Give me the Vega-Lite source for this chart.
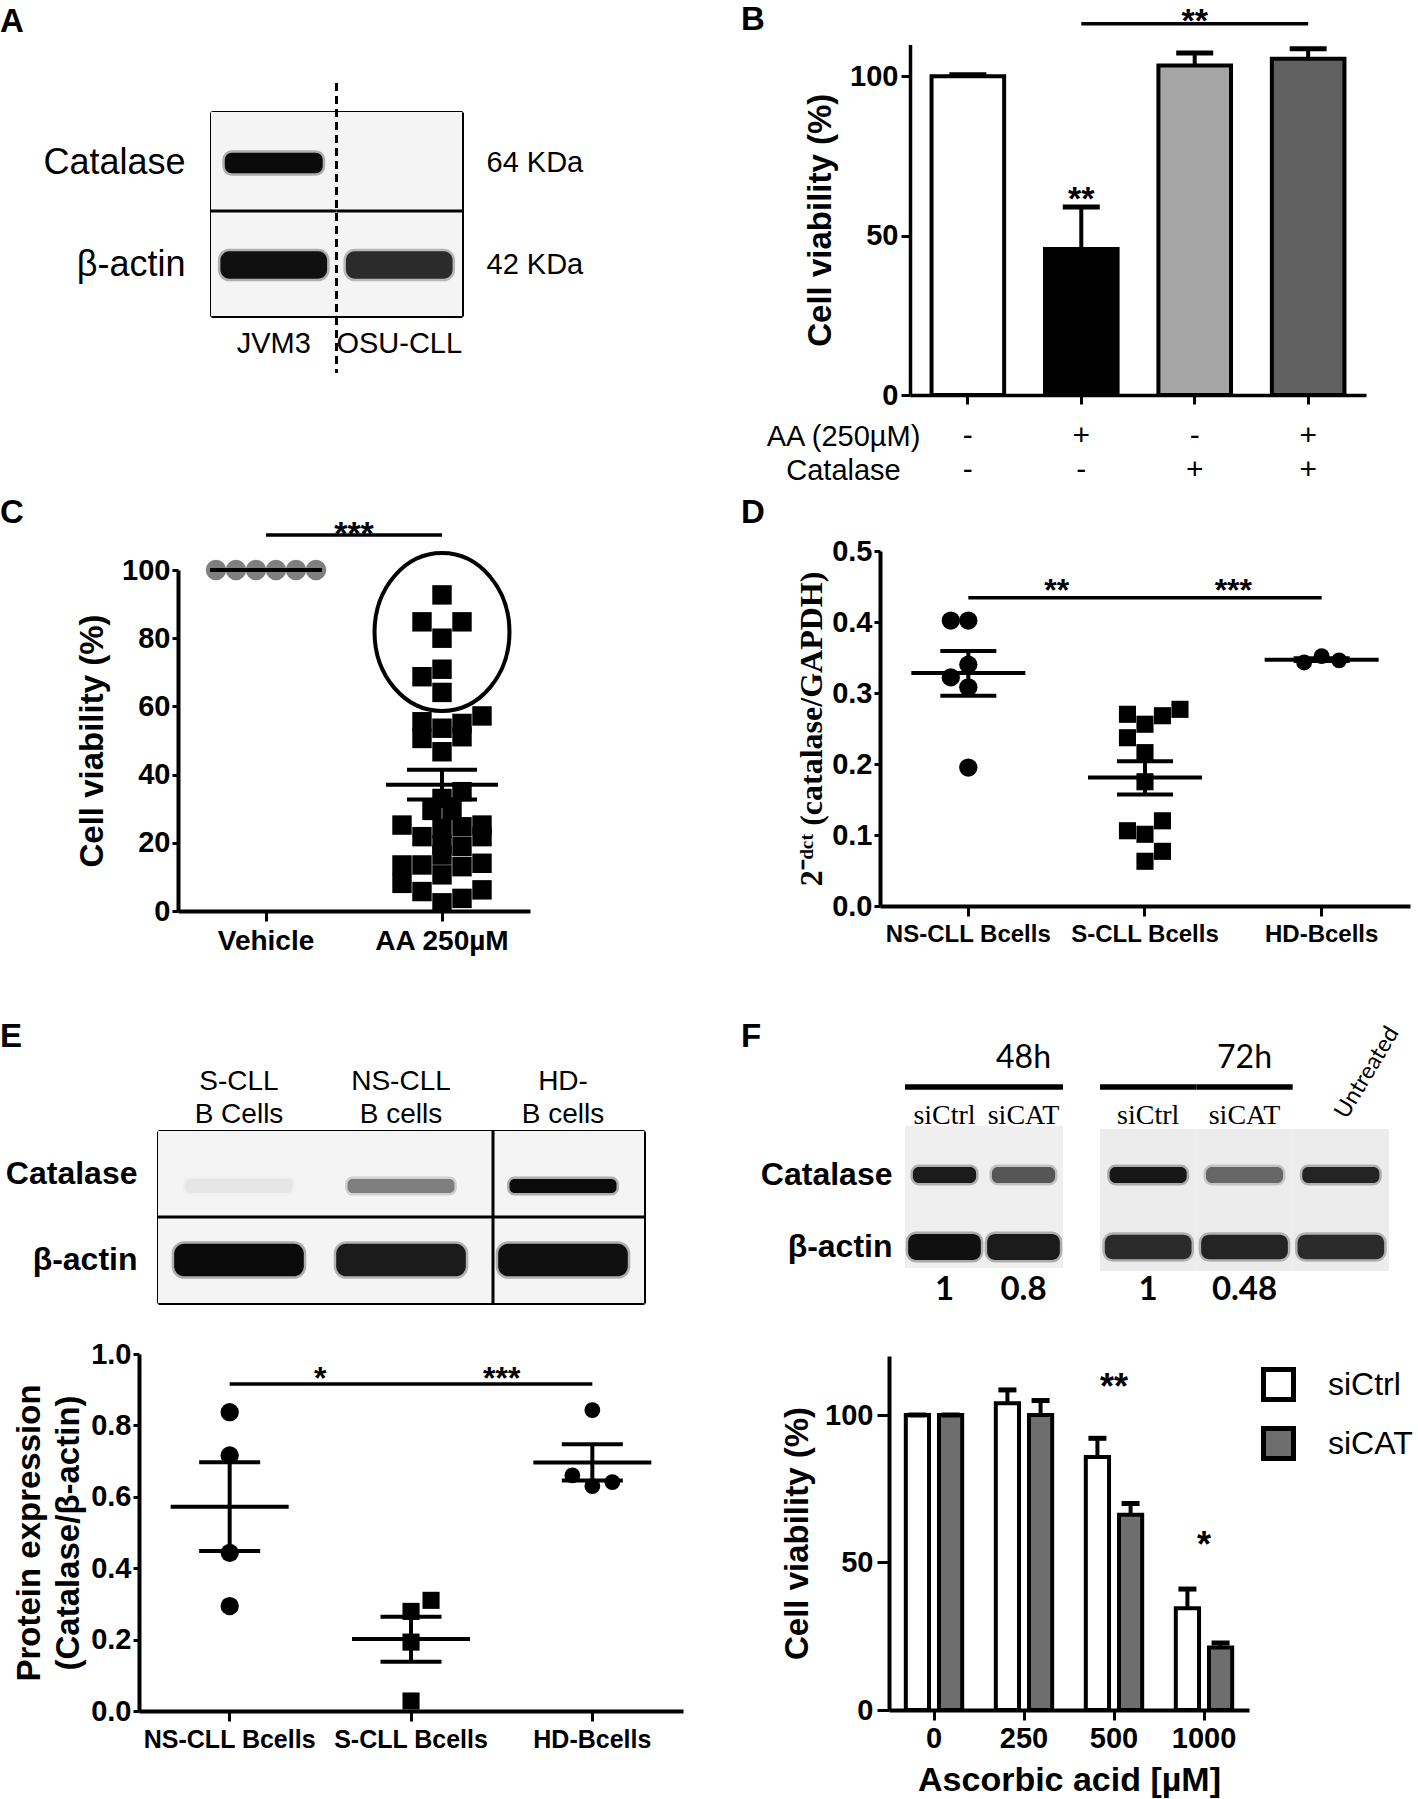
{
"$schema": "https://vega.github.io/schema/vega-lite/v6.json",
"background": "white",
"padding": {"top": 3, "left": 0, "right": 0, "bottom": 0},
"autosize": {"type": "pad"},
"columns": 2,
"spacing": 0,
"bounds": "flush",
"align": "each",
"config": {
 "view": {"stroke": null},
 "font": "Liberation Sans",
 "title": {"font": "Liberation Sans", "fontSize": 33, "fontWeight": "bold", "anchor": "start", "frame": "group", "color": "black", "baseline": "alphabetic"},
 "axis": {"domainColor": "black", "tickColor": "black", "labelColor": "black", "titleColor": "black", "labelFont": "Liberation Sans", "titleFont": "Liberation Sans", "labelFontWeight": "bold", "titleFontWeight": "bold", "labelFontSize": 29, "titleFontSize": 33, "domainWidth": 3.5, "tickWidth": 3, "grid": false, "labelFlush": false, "labelOverlap": false, "labelLimit": 600, "labelAngle": 0, "zindex": 1},
 "text": {"font": "Liberation Sans", "color": "black"}
},
"datasets": {
 "blotA": [
  {"lane": "JVM3", "row": "Catalase", "v": 0.97},
  {"lane": "OSU-CLL", "row": "Catalase", "v": 0},
  {"lane": "JVM3", "row": "β-actin", "v": 0.95},
  {"lane": "OSU-CLL", "row": "β-actin", "v": 0.82}
 ],
 "blotE": [
  {"lane": "S-CLL", "row": "Catalase", "v": 0.05},
  {"lane": "NS-CLL", "row": "Catalase", "v": 0.45},
  {"lane": "HD", "row": "Catalase", "v": 0.97},
  {"lane": "S-CLL", "row": "β-actin", "v": 0.97},
  {"lane": "NS-CLL", "row": "β-actin", "v": 0.9},
  {"lane": "HD", "row": "β-actin", "v": 0.95}
 ],
 "F_bands": [
  {"blot": "48h", "lane": "48h siCtrl", "row": "Catalase", "v": 0.9},
  {"blot": "48h", "lane": "48h siCAT", "row": "Catalase", "v": 0.62},
  {"blot": "72h", "lane": "72h siCtrl", "row": "Catalase", "v": 0.92},
  {"blot": "72h", "lane": "72h siCAT", "row": "Catalase", "v": 0.55},
  {"blot": "72h", "lane": "Untreated", "row": "Catalase", "v": 0.85},
  {"blot": "48h", "lane": "48h siCtrl", "row": "β-actin", "v": 0.95},
  {"blot": "48h", "lane": "48h siCAT", "row": "β-actin", "v": 0.9},
  {"blot": "72h", "lane": "72h siCtrl", "row": "β-actin", "v": 0.82},
  {"blot": "72h", "lane": "72h siCAT", "row": "β-actin", "v": 0.85},
  {"blot": "72h", "lane": "Untreated", "row": "β-actin", "v": 0.82}
 ],
 "F_lanes": [
  {"blot": "48h", "lane": "48h siCtrl", "label": "siCtrl", "ratio": "1"},
  {"blot": "48h", "lane": "48h siCAT", "label": "siCAT", "ratio": "0.8"},
  {"blot": "72h", "lane": "72h siCtrl", "label": "siCtrl", "ratio": "1"},
  {"blot": "72h", "lane": "72h siCAT", "label": "siCAT", "ratio": "0.48"},
  {"blot": "72h", "lane": "Untreated", "label": "Untreated", "ratio": ""}
 ],
 "B_bars": [
  {"cond": "Control", "mean": 100, "upper": 100.5},
  {"cond": "AA", "mean": 45.8, "upper": 59},
  {"cond": "Catalase", "mean": 103.4, "upper": 107.3},
  {"cond": "AA + Catalase", "mean": 105.5, "upper": 108.6}
 ],
 "B_sig": [
  {"at": "AA", "y": 57.9, "label": "**"},
  {"at": "Catalase", "y": 113.9, "label": "**"}
 ],
 "B_lines": [{"from": "AA", "to": "AA + Catalase", "y": 116.5}],
 "B_table": [
  {"cond": "Control", "factor": "AA (250µM)", "sign": "-"},
  {"cond": "AA", "factor": "AA (250µM)", "sign": "+"},
  {"cond": "Catalase", "factor": "AA (250µM)", "sign": "-"},
  {"cond": "AA + Catalase", "factor": "AA (250µM)", "sign": "+"},
  {"cond": "Control", "factor": "Catalase", "sign": "-"},
  {"cond": "AA", "factor": "Catalase", "sign": "-"},
  {"cond": "Catalase", "factor": "Catalase", "sign": "+"},
  {"cond": "AA + Catalase", "factor": "Catalase", "sign": "+"}
 ],
 "C_pts": [
  {"grp": "Vehicle", "v": 100, "slot": -2.5},
  {"grp": "Vehicle", "v": 100, "slot": -1.5},
  {"grp": "Vehicle", "v": 100, "slot": -0.5},
  {"grp": "Vehicle", "v": 100, "slot": 0.5},
  {"grp": "Vehicle", "v": 100, "slot": 1.5},
  {"grp": "Vehicle", "v": 100, "slot": 2.5},
  {"grp": "AA 250µM", "v": 92.7, "slot": 0},
  {"grp": "AA 250µM", "v": 84.8, "slot": -1},
  {"grp": "AA 250µM", "v": 84.8, "slot": 1},
  {"grp": "AA 250µM", "v": 80.0, "slot": 0},
  {"grp": "AA 250µM", "v": 70.9, "slot": 0},
  {"grp": "AA 250µM", "v": 68.7, "slot": -1},
  {"grp": "AA 250µM", "v": 64.1, "slot": 0},
  {"grp": "AA 250µM", "v": 57.2, "slot": 2},
  {"grp": "AA 250µM", "v": 55.5, "slot": -1},
  {"grp": "AA 250µM", "v": 55.0, "slot": 1},
  {"grp": "AA 250µM", "v": 53.6, "slot": 0},
  {"grp": "AA 250µM", "v": 50.6, "slot": -1},
  {"grp": "AA 250µM", "v": 51.1, "slot": 1},
  {"grp": "AA 250µM", "v": 46.7, "slot": 0},
  {"grp": "AA 250µM", "v": 35.0, "slot": 1},
  {"grp": "AA 250µM", "v": 33.0, "slot": 0},
  {"grp": "AA 250µM", "v": 29.5, "slot": -0.5},
  {"grp": "AA 250µM", "v": 29.5, "slot": 0.5},
  {"grp": "AA 250µM", "v": 25.2, "slot": -2},
  {"grp": "AA 250µM", "v": 25.2, "slot": 2},
  {"grp": "AA 250µM", "v": 24.2, "slot": 0},
  {"grp": "AA 250µM", "v": 24.7, "slot": 1},
  {"grp": "AA 250µM", "v": 21.8, "slot": -1},
  {"grp": "AA 250µM", "v": 21.8, "slot": 2},
  {"grp": "AA 250µM", "v": 19.4, "slot": 0},
  {"grp": "AA 250µM", "v": 18.9, "slot": 1},
  {"grp": "AA 250µM", "v": 16.4, "slot": 0},
  {"grp": "AA 250µM", "v": 13.5, "slot": -2},
  {"grp": "AA 250µM", "v": 13.5, "slot": -1},
  {"grp": "AA 250µM", "v": 13.0, "slot": 1},
  {"grp": "AA 250µM", "v": 14.0, "slot": 2},
  {"grp": "AA 250µM", "v": 10.6, "slot": 0},
  {"grp": "AA 250µM", "v": 8.1, "slot": -2},
  {"grp": "AA 250µM", "v": 6.2, "slot": 2},
  {"grp": "AA 250µM", "v": 5.7, "slot": -1},
  {"grp": "AA 250µM", "v": 3.7, "slot": 1},
  {"grp": "AA 250µM", "v": 2.4, "slot": 0}
 ],
 "C_stats": [
  {"grp": "Vehicle", "mean": 100, "lo": 100, "hi": 100},
  {"grp": "AA 250µM", "mean": 37.0, "lo": 32.7, "hi": 41.4}
 ],
 "C_ring": [{"grp": "AA 250µM", "v": 81.8}],
 "C_sig": [{"at": "AA 250µM", "y": 107.3, "label": "***"}],
 "C_lines": [{"from": "Vehicle", "to": "AA 250µM", "y": 110.3}],
 "D_pts": [
  {"grp": "NS-CLL Bcells", "v": 0.402, "slot": -1},
  {"grp": "NS-CLL Bcells", "v": 0.402, "slot": 0},
  {"grp": "NS-CLL Bcells", "v": 0.340, "slot": 0},
  {"grp": "NS-CLL Bcells", "v": 0.322, "slot": -1},
  {"grp": "NS-CLL Bcells", "v": 0.308, "slot": 0},
  {"grp": "NS-CLL Bcells", "v": 0.195, "slot": 0},
  {"grp": "S-CLL Bcells", "v": 0.270, "slot": -1},
  {"grp": "S-CLL Bcells", "v": 0.277, "slot": 2},
  {"grp": "S-CLL Bcells", "v": 0.268, "slot": 1},
  {"grp": "S-CLL Bcells", "v": 0.256, "slot": 0},
  {"grp": "S-CLL Bcells", "v": 0.237, "slot": -1},
  {"grp": "S-CLL Bcells", "v": 0.216, "slot": 0},
  {"grp": "S-CLL Bcells", "v": 0.175, "slot": 0},
  {"grp": "S-CLL Bcells", "v": 0.120, "slot": 1},
  {"grp": "S-CLL Bcells", "v": 0.106, "slot": -1},
  {"grp": "S-CLL Bcells", "v": 0.101, "slot": 0},
  {"grp": "S-CLL Bcells", "v": 0.077, "slot": 1},
  {"grp": "S-CLL Bcells", "v": 0.063, "slot": 0},
  {"grp": "HD-Bcells", "v": 0.343, "slot": -1},
  {"grp": "HD-Bcells", "v": 0.352, "slot": 0},
  {"grp": "HD-Bcells", "v": 0.346, "slot": 1}
 ],
 "D_stats": [
  {"grp": "NS-CLL Bcells", "mean": 0.328, "lo": 0.296, "hi": 0.359},
  {"grp": "S-CLL Bcells", "mean": 0.181, "lo": 0.157, "hi": 0.204},
  {"grp": "HD-Bcells", "mean": 0.347, "lo": 0.345, "hi": 0.349}
 ],
 "D_sig": [
  {"at": "S-CLL Bcells", "y": 0.4296, "label": "**"},
  {"at": "HD-Bcells", "y": 0.4296, "label": "***"}
 ],
 "D_lines": [
  {"from": "NS-CLL Bcells", "to": "S-CLL Bcells", "y": 0.434},
  {"from": "S-CLL Bcells", "to": "HD-Bcells", "y": 0.434}
 ],
 "E_pts": [
  {"grp": "NS-CLL Bcells", "v": 0.837, "slot": 0},
  {"grp": "NS-CLL Bcells", "v": 0.716, "slot": 0},
  {"grp": "NS-CLL Bcells", "v": 0.443, "slot": 0},
  {"grp": "NS-CLL Bcells", "v": 0.294, "slot": 0},
  {"grp": "S-CLL Bcells", "v": 0.310, "slot": 1},
  {"grp": "S-CLL Bcells", "v": 0.279, "slot": 0},
  {"grp": "S-CLL Bcells", "v": 0.193, "slot": 0},
  {"grp": "S-CLL Bcells", "v": 0.028, "slot": 0},
  {"grp": "HD-Bcells", "v": 0.843, "slot": 0},
  {"grp": "HD-Bcells", "v": 0.660, "slot": -1},
  {"grp": "HD-Bcells", "v": 0.630, "slot": 0},
  {"grp": "HD-Bcells", "v": 0.641, "slot": 1}
 ],
 "E_stats": [
  {"grp": "NS-CLL Bcells", "mean": 0.572, "lo": 0.448, "hi": 0.697},
  {"grp": "S-CLL Bcells", "mean": 0.202, "lo": 0.138, "hi": 0.264},
  {"grp": "HD-Bcells", "mean": 0.696, "lo": 0.646, "hi": 0.747}
 ],
 "E_sig": [
  {"at": "S-CLL Bcells", "y": 0.902, "label": "*"},
  {"at": "HD-Bcells", "y": 0.902, "label": "***"}
 ],
 "E_lines": [
  {"from": "NS-CLL Bcells", "to": "S-CLL Bcells", "y": 0.916},
  {"from": "S-CLL Bcells", "to": "HD-Bcells", "y": 0.916}
 ],
 "F_bars": [
  {"aa": "0", "si": "siCtrl", "mean": 100, "upper": 100},
  {"aa": "0", "si": "siCAT", "mean": 100, "upper": 100},
  {"aa": "250", "si": "siCtrl", "mean": 104.0, "upper": 108.5},
  {"aa": "250", "si": "siCAT", "mean": 100.0, "upper": 104.9},
  {"aa": "500", "si": "siCtrl", "mean": 85.8, "upper": 92.1},
  {"aa": "500", "si": "siCAT", "mean": 66.2, "upper": 70.0},
  {"aa": "1000", "si": "siCtrl", "mean": 34.5, "upper": 41.0},
  {"aa": "1000", "si": "siCAT", "mean": 21.2, "upper": 22.7}
 ],
 "F_sig": [
  {"aa": "500", "y": 105.4, "label": "**"},
  {"aa": "1000", "y": 51.9, "label": "*"}
 ]
},
"concat": [
 {
  "width": 709, "height": 495,
  "title": {"text": "A", "offset": -36},
  "resolve": {"scale": {"x": "independent", "y": "independent"}},
  "layer": [
   {
    "data": {"name": "blotA"},
    "mark": {"type": "rect", "color": "#f4f4f4"},
    "encoding": {
     "x": {"field": "lane", "type": "nominal", "scale": {"domain": ["JVM3", "OSU-CLL"], "range": [211, 462], "paddingInner": 0, "paddingOuter": 0},
       "axis": {"orient": "bottom", "offset": -182, "domainWidth": 3, "ticks": false, "labelFontWeight": "normal", "labelFontSize": 29, "labelPadding": 13, "title": null}},
     "y": {"field": "row", "type": "nominal", "scale": {"domain": ["Catalase", "β-actin"], "range": [109, 313], "paddingInner": 0, "paddingOuter": 0},
       "axis": {"orient": "left", "offset": -211, "domainWidth": 3, "ticks": false, "labelFontWeight": "normal", "labelFontSize": 36, "labelPadding": 26, "title": null}}
    }
   },
   {
    "data": {"name": "blotA"},
    "transform": [{"filter": "datum.row === 'Catalase' && datum.v > 0"}],
    "mark": {"type": "rect", "width": {"band": 0.78}, "height": {"band": 0.2}, "cornerRadius": 7, "strokeWidth": 5, "strokeOpacity": 0.3},
    "encoding": {
     "x": {"field": "lane", "type": "nominal", "scale": {"domain": ["JVM3", "OSU-CLL"], "range": [211, 462], "paddingInner": 0, "paddingOuter": 0},
       "axis": {"orient": "top", "offset": -109, "domainWidth": 3, "ticks": false, "labels": false, "title": null}},
     "y": {"field": "row", "type": "nominal", "scale": {"domain": ["Catalase", "β-actin"], "range": [109, 313], "paddingInner": 0, "paddingOuter": 0},
       "axis": {"orient": "right", "offset": -247, "domainWidth": 3, "ticks": false, "labelFontWeight": "normal", "labelFontSize": 29, "labelPadding": 24, "labelExpr": "datum.value === 'Catalase' ? '64 KDa' : '42 KDa'", "title": null}},
     "fill": {"field": "v", "type": "quantitative", "scale": {"domain": [0, 1], "range": ["#f4f4f4", "#000000"]}, "legend": null},
     "stroke": {"field": "v", "type": "quantitative", "scale": {"domain": [0, 1], "range": ["#f4f4f4", "#000000"]}, "legend": null}
    }
   },
   {
    "data": {"name": "blotA"},
    "transform": [{"filter": "datum.row === 'β-actin'"}],
    "mark": {"type": "rect", "width": {"band": 0.85}, "height": {"band": 0.27}, "cornerRadius": 9, "strokeWidth": 5, "strokeOpacity": 0.3},
    "encoding": {
     "x": {"field": "lane", "type": "nominal", "scale": {"domain": ["JVM3", "OSU-CLL"], "range": [211, 462], "paddingInner": 0, "paddingOuter": 0}, "axis": null},
     "y": {"field": "row", "type": "nominal", "scale": {"domain": ["Catalase", "β-actin"], "range": [109, 313], "paddingInner": 0, "paddingOuter": 0}, "axis": null},
     "fill": {"field": "v", "type": "quantitative", "scale": {"domain": [0, 1], "range": ["#f4f4f4", "#000000"]}, "legend": null},
     "stroke": {"field": "v", "type": "quantitative", "scale": {"domain": [0, 1], "range": ["#f4f4f4", "#000000"]}, "legend": null}
    }
   },
   {
    "data": {"name": "blotA"},
    "transform": [{"filter": "datum.row === 'Catalase'"}],
    "mark": {"type": "rect", "color": "black"},
    "encoding": {
     "x": {"field": "lane", "type": "nominal", "scale": {"domain": ["JVM3", "OSU-CLL"], "range": [211, 462], "paddingInner": 0, "paddingOuter": 0}, "axis": null},
     "y": {"datum": "separator", "type": "nominal", "scale": {"domain": ["separator"], "range": [206.5, 209.5], "paddingInner": 0, "paddingOuter": 0}, "axis": null}
    }
   },
   {
    "data": {"name": "blotA"},
    "transform": [{"filter": "datum.lane === 'OSU-CLL' && datum.row === 'Catalase'"}],
    "mark": {"type": "rule", "color": "black", "strokeWidth": 3, "strokeDash": [8, 5]},
    "encoding": {
     "x": {"field": "lane", "type": "nominal", "bandPosition": 0, "scale": {"domain": ["JVM3", "OSU-CLL"], "range": [211, 462], "paddingInner": 0, "paddingOuter": 0}, "axis": null},
     "y": {"datum": "top", "type": "nominal", "scale": {"type": "point", "domain": ["top", "bottom"], "range": [80, 370], "padding": 0}, "axis": null},
     "y2": {"datum": "bottom"}
    }
   }
  ]
 },
 {
  "width": 709, "height": 495,
  "title": {"text": "B", "offset": -34, "dx": 32},
  "resolve": {"scale": {"y": "independent"}},
  "layer": [
   {
    "data": {"name": "B_bars"},
    "mark": {"type": "bar", "stroke": "black", "strokeWidth": 4},
    "encoding": {
     "x": {"field": "cond", "type": "nominal", "scale": {"domain": ["Control", "AA", "Catalase", "AA + Catalase"], "range": [201, 657], "paddingInner": 0.36, "paddingOuter": 0.19},
       "axis": {"orient": "bottom", "offset": -103, "labels": false, "tickSize": 9, "title": null}},
     "y": {"field": "mean", "type": "quantitative", "scale": {"domain": [0, 110], "range": [392, 41.4], "nice": false, "zero": false},
       "axis": {"orient": "left", "offset": -201, "values": [0, 50, 100], "tickSize": 9, "labelPadding": 3, "title": "Cell viability (%)", "titlePadding": 12}},
     "fill": {"field": "cond", "type": "nominal", "scale": {"domain": ["Control", "AA", "Catalase", "AA + Catalase"], "range": ["#ffffff", "#000000", "#a6a6a6", "#606060"]}, "legend": null}
    }
   },
   {
    "data": {"name": "B_bars"},
    "mark": {"type": "rule", "strokeWidth": 4, "color": "black"},
    "encoding": {
     "x": {"field": "cond", "type": "nominal"},
     "y": {"field": "mean", "type": "quantitative", "scale": {"domain": [0, 110], "range": [392, 41.4], "nice": false, "zero": false}, "axis": null},
     "y2": {"field": "upper"}
    }
   },
   {
    "data": {"name": "B_bars"},
    "mark": {"type": "tick", "size": 37, "thickness": 5, "color": "black", "opacity": 1},
    "encoding": {
     "x": {"field": "cond", "type": "nominal"},
     "y": {"field": "upper", "type": "quantitative", "scale": {"domain": [0, 110], "range": [392, 41.4], "nice": false, "zero": false}, "axis": null}
    }
   },
   {
    "data": {"name": "B_sig"},
    "mark": {"type": "text", "fontSize": 34, "fontWeight": "bold", "baseline": "alphabetic", "align": "center"},
    "encoding": {
     "x": {"field": "at", "type": "nominal"},
     "y": {"field": "y", "type": "quantitative", "scale": {"domain": [0, 110], "range": [392, 41.4], "nice": false, "zero": false}, "axis": null},
     "text": {"field": "label"}
    }
   },
   {
    "data": {"name": "B_lines"},
    "mark": {"type": "rule", "strokeWidth": 3.5, "color": "black"},
    "encoding": {
     "x": {"field": "from", "type": "nominal"},
     "x2": {"field": "to"},
     "y": {"field": "y", "type": "quantitative", "scale": {"domain": [0, 110], "range": [392, 41.4], "nice": false, "zero": false}, "axis": null}
    }
   },
   {
    "data": {"name": "B_table"},
    "mark": {"type": "text", "fontSize": 30, "baseline": "middle", "align": "center"},
    "encoding": {
     "x": {"field": "cond", "type": "nominal"},
     "y": {"field": "factor", "type": "nominal", "scale": {"domain": ["AA (250µM)", "Catalase"], "range": [416, 484], "paddingInner": 0, "paddingOuter": 0},
       "axis": {"orient": "left", "offset": -134, "domain": false, "ticks": false, "labelAlign": "center", "labelPadding": 0, "labelFontWeight": "normal", "labelFontSize": 29, "title": null}},
     "text": {"field": "sign"}
    }
   }
  ]
 },
 {
  "width": 709, "height": 515,
  "title": {"text": "C", "offset": -32},
  "layer": [
   {
    "data": {"name": "C_pts"},
    "mark": {"type": "point", "filled": true, "opacity": 1, "strokeWidth": 0},
    "encoding": {
     "x": {"field": "grp", "type": "nominal", "scale": {"domain": ["Vehicle", "AA 250µM"], "range": [178, 530], "paddingInner": 0, "paddingOuter": 0},
       "axis": {"orient": "bottom", "offset": -102, "domainWidth": 4, "tickSize": 10, "labelFontSize": 28, "labelPadding": 6, "title": null}},
     "xOffset": {"field": "slot", "type": "quantitative", "scale": {"domain": [-2, 2], "range": [48, 128]}},
     "y": {"field": "v", "type": "quantitative", "scale": {"domain": [0, 100], "range": [413, 72], "nice": false, "zero": false},
       "axis": {"orient": "left", "offset": -178, "values": [0, 20, 40, 60, 80, 100], "tickSize": 6, "labelPadding": 2, "domainWidth": 4, "title": "Cell viability (%)", "titlePadding": 12}},
     "shape": {"field": "grp", "type": "nominal", "scale": {"domain": ["Vehicle", "AA 250µM"], "range": ["circle", "square"]}, "legend": null},
     "color": {"field": "grp", "type": "nominal", "scale": {"domain": ["Vehicle", "AA 250µM"], "range": ["#7f7f7f", "#000000"]}, "legend": null},
     "size": {"field": "grp", "type": "ordinal", "scale": {"domain": ["Vehicle", "AA 250µM"], "range": [420, 250]}, "legend": null}
    }
   },
   {
    "data": {"name": "C_stats"},
    "mark": {"type": "tick", "size": 112, "thickness": 4, "color": "black", "opacity": 1},
    "encoding": {"x": {"field": "grp", "type": "nominal"}, "y": {"field": "mean", "type": "quantitative"}}
   },
   {
    "data": {"name": "C_stats"},
    "mark": {"type": "rule", "strokeWidth": 4, "color": "black"},
    "encoding": {"x": {"field": "grp", "type": "nominal"}, "y": {"field": "lo", "type": "quantitative"}, "y2": {"field": "hi"}}
   },
   {
    "data": {"name": "C_stats"},
    "mark": {"type": "tick", "size": 70, "thickness": 4, "color": "black", "opacity": 1},
    "encoding": {"x": {"field": "grp", "type": "nominal"}, "y": {"field": "lo", "type": "quantitative"}}
   },
   {
    "data": {"name": "C_stats"},
    "mark": {"type": "tick", "size": 70, "thickness": 4, "color": "black", "opacity": 1},
    "encoding": {"x": {"field": "grp", "type": "nominal"}, "y": {"field": "hi", "type": "quantitative"}}
   },
   {
    "data": {"name": "C_ring"},
    "mark": {"type": "point", "shape": "M -0.854 0 A 0.854 1 0 1 0 0.854 0 A 0.854 1 0 1 0 -0.854 0 Z", "size": 24964, "filled": false, "stroke": "black", "strokeWidth": 4, "opacity": 1},
    "encoding": {"x": {"field": "grp", "type": "nominal"}, "y": {"field": "v", "type": "quantitative"}}
   },
   {
    "data": {"name": "C_sig"},
    "mark": {"type": "text", "fontSize": 34, "fontWeight": "bold", "baseline": "alphabetic", "align": "center"},
    "encoding": {"x": {"field": "at", "type": "nominal", "bandPosition": 0}, "y": {"field": "y", "type": "quantitative"}, "text": {"field": "label"}}
   },
   {
    "data": {"name": "C_lines"},
    "mark": {"type": "rule", "strokeWidth": 3.5, "color": "black"},
    "encoding": {"x": {"field": "from", "type": "nominal"}, "x2": {"field": "to"}, "y": {"field": "y", "type": "quantitative"}}
   }
  ]
 },
 {
  "width": 709, "height": 515,
  "title": {"text": "D", "offset": -32, "dx": 32},
  "layer": [
   {
    "data": {"name": "D_pts"},
    "mark": {"type": "point", "filled": true, "opacity": 1, "strokeWidth": 0, "color": "black"},
    "encoding": {
     "x": {"field": "grp", "type": "nominal", "scale": {"domain": ["NS-CLL Bcells", "S-CLL Bcells", "HD-Bcells"], "range": [171, 701], "paddingInner": 0, "paddingOuter": 0},
       "axis": {"orient": "bottom", "offset": -107, "domainWidth": 4, "tickSize": 10, "labelFontSize": 24, "labelPadding": 6, "title": null}},
     "xOffset": {"field": "slot", "type": "quantitative", "scale": {"domain": [-2, 2], "range": [53.3, 123.3]}},
     "y": {"field": "v", "type": "quantitative", "scale": {"domain": [0, 0.5], "range": [408, 53], "nice": false, "zero": false},
       "axis": {"orient": "left", "offset": -171, "values": [0, 0.1, 0.2, 0.3, 0.4, 0.5], "format": ".1f", "tickSize": 6, "labelPadding": 2, "domainWidth": 4, "title": "2⁻ᵈᶜᵗ (catalase/GAPDH)", "titleFont": "Liberation Serif", "titleFontSize": 32, "titlePadding": 3}},
     "shape": {"field": "grp", "type": "nominal", "scale": {"domain": ["NS-CLL Bcells", "S-CLL Bcells", "HD-Bcells"], "range": ["circle", "square", "triangle-up"]}, "legend": null},
     "size": {"field": "grp", "type": "ordinal", "scale": {"domain": ["NS-CLL Bcells", "S-CLL Bcells", "HD-Bcells"], "range": [270, 256, 200]}, "legend": null}
    }
   },
   {
    "data": {"name": "D_stats"},
    "mark": {"type": "tick", "size": 114, "thickness": 4, "color": "black", "opacity": 1},
    "encoding": {"x": {"field": "grp", "type": "nominal"}, "y": {"field": "mean", "type": "quantitative"}}
   },
   {
    "data": {"name": "D_stats"},
    "mark": {"type": "rule", "strokeWidth": 4, "color": "black"},
    "encoding": {"x": {"field": "grp", "type": "nominal"}, "y": {"field": "lo", "type": "quantitative"}, "y2": {"field": "hi"}}
   },
   {
    "data": {"name": "D_stats"},
    "mark": {"type": "tick", "size": 56, "thickness": 4, "color": "black", "opacity": 1},
    "encoding": {"x": {"field": "grp", "type": "nominal"}, "y": {"field": "lo", "type": "quantitative"}}
   },
   {
    "data": {"name": "D_stats"},
    "mark": {"type": "tick", "size": 56, "thickness": 4, "color": "black", "opacity": 1},
    "encoding": {"x": {"field": "grp", "type": "nominal"}, "y": {"field": "hi", "type": "quantitative"}}
   },
   {
    "data": {"name": "D_sig"},
    "mark": {"type": "text", "fontSize": 32, "fontWeight": "bold", "baseline": "alphabetic", "align": "center"},
    "encoding": {"x": {"field": "at", "type": "nominal", "bandPosition": 0}, "y": {"field": "y", "type": "quantitative"}, "text": {"field": "label"}}
   },
   {
    "data": {"name": "D_lines"},
    "mark": {"type": "rule", "strokeWidth": 3.5, "color": "black"},
    "encoding": {"x": {"field": "from", "type": "nominal"}, "x2": {"field": "to"}, "y": {"field": "y", "type": "quantitative"}}
   }
  ]
 },
 {
  "width": 709, "height": 310,
  "title": {"text": "E", "offset": -41},
  "resolve": {"scale": {"x": "independent", "y": "independent"}},
  "layer": [
   {
    "data": {"name": "blotE"},
    "mark": {"type": "rect", "color": "#f4f4f4"},
    "encoding": {
     "x": {"field": "lane", "type": "nominal", "scale": {"domain": ["S-CLL", "NS-CLL", "HD"], "range": [158, 644], "paddingInner": 0, "paddingOuter": 0},
       "axis": {"orient": "top", "offset": -118, "domainWidth": 3, "ticks": false, "labelFontWeight": "normal", "labelFontSize": 28, "labelPadding": 3, "labelExpr": "datum.value === 'S-CLL' ? 'B Cells' : 'B cells'", "title": null}},
     "y": {"field": "row", "type": "nominal", "scale": {"domain": ["Catalase", "β-actin"], "range": [118, 290], "paddingInner": 0, "paddingOuter": 0},
       "axis": {"orient": "left", "offset": -158, "domainWidth": 3, "ticks": false, "labelFontSize": 32, "labelPadding": 21, "title": null}}
    }
   },
   {
    "data": {"name": "blotE"},
    "transform": [{"filter": "datum.row === 'Catalase'"}],
    "mark": {"type": "rect", "width": {"band": 0.66}, "height": {"band": 0.16}, "cornerRadius": 5, "strokeWidth": 5, "strokeOpacity": 0.3},
    "encoding": {
     "x": {"field": "lane", "type": "nominal", "scale": {"domain": ["S-CLL", "NS-CLL", "HD"], "range": [158, 644], "paddingInner": 0, "paddingOuter": 0},
       "axis": {"orient": "top", "offset": -118, "domain": false, "ticks": false, "labelFontWeight": "normal", "labelFontSize": 28, "labelPadding": 36, "labelExpr": "datum.value === 'HD' ? 'HD-' : datum.value", "title": null}},
     "y": {"field": "row", "type": "nominal", "scale": {"domain": ["Catalase", "β-actin"], "range": [130, 302], "paddingInner": 0, "paddingOuter": 0}, "axis": null},
     "fill": {"field": "v", "type": "quantitative", "scale": {"domain": [0, 1], "range": ["#f4f4f4", "#000000"]}, "legend": null},
     "stroke": {"field": "v", "type": "quantitative", "scale": {"domain": [0, 1], "range": ["#f4f4f4", "#000000"]}, "legend": null}
    }
   },
   {
    "data": {"name": "blotE"},
    "transform": [{"filter": "datum.row === 'β-actin'"}],
    "mark": {"type": "rect", "width": {"band": 0.8}, "height": {"band": 0.38}, "cornerRadius": 10, "strokeWidth": 5, "strokeOpacity": 0.3},
    "encoding": {
     "x": {"field": "lane", "type": "nominal", "scale": {"domain": ["S-CLL", "NS-CLL", "HD"], "range": [158, 644], "paddingInner": 0, "paddingOuter": 0}, "axis": null},
     "y": {"field": "row", "type": "nominal", "scale": {"domain": ["Catalase", "β-actin"], "range": [118, 290], "paddingInner": 0, "paddingOuter": 0}, "axis": null},
     "fill": {"field": "v", "type": "quantitative", "scale": {"domain": [0, 1], "range": ["#f4f4f4", "#000000"]}, "legend": null},
     "stroke": {"field": "v", "type": "quantitative", "scale": {"domain": [0, 1], "range": ["#f4f4f4", "#000000"]}, "legend": null}
    }
   },
   {
    "data": {"name": "blotE"},
    "transform": [{"filter": "datum.row === 'Catalase'"}],
    "mark": {"type": "rect", "color": "black"},
    "encoding": {
     "x": {"field": "lane", "type": "nominal", "scale": {"domain": ["S-CLL", "NS-CLL", "HD"], "range": [158, 644], "paddingInner": 0, "paddingOuter": 0}, "axis": null},
     "y": {"datum": "separator", "type": "nominal", "scale": {"domain": ["separator"], "range": [202.5, 205.5], "paddingInner": 0, "paddingOuter": 0}, "axis": null}
    }
   },
   {
    "data": {"name": "blotE"},
    "transform": [{"filter": "datum.lane === 'HD'"}],
    "mark": {"type": "rect", "color": "black"},
    "encoding": {
     "x": {"datum": "separator", "type": "nominal", "scale": {"domain": ["separator"], "range": [491.5, 494.5], "paddingInner": 0, "paddingOuter": 0}, "axis": null},
     "y": {"field": "row", "type": "nominal", "scale": {"domain": ["Catalase", "β-actin"], "range": [118, 290], "paddingInner": 0, "paddingOuter": 0}, "axis": null}
    }
   },
   {
    "data": {"name": "blotE"},
    "mark": {"type": "rect", "opacity": 0},
    "encoding": {
     "x": {"field": "lane", "type": "nominal", "scale": {"domain": ["S-CLL", "NS-CLL", "HD"], "range": [158, 644], "paddingInner": 0, "paddingOuter": 0},
       "axis": {"orient": "bottom", "offset": -20, "domainWidth": 3, "ticks": false, "labels": false, "title": null}},
     "y": {"field": "row", "type": "nominal", "scale": {"domain": ["Catalase", "β-actin"], "range": [118, 290], "paddingInner": 0, "paddingOuter": 0},
       "axis": {"orient": "right", "offset": -65, "domainWidth": 3, "ticks": false, "labels": false, "title": null}}
    }
   }
  ]
 },
 {
  "width": 709, "height": 310,
  "title": {"text": "F", "offset": -41, "dx": 32},
  "resolve": {"scale": {"x": "independent", "y": "independent"}},
  "layer": [
   {
    "data": {"name": "F_bands"},
    "transform": [{"filter": "datum.blot === '48h'"}],
    "mark": {"type": "rect", "color": "#efefef"},
    "encoding": {
     "x": {"field": "lane", "type": "nominal", "scale": {"domain": ["48h siCtrl", "48h siCAT"], "range": [196, 354], "paddingInner": 0, "paddingOuter": 0}, "axis": null},
     "y": {"field": "row", "type": "nominal", "scale": {"domain": ["Catalase", "β-actin"], "range": [113, 255], "paddingInner": 0, "paddingOuter": 0}, "axis": null}
    }
   },
   {
    "data": {"name": "F_bands"},
    "transform": [{"filter": "datum.blot === '72h'"}],
    "mark": {"type": "rect", "color": "#ececec"},
    "encoding": {
     "x": {"field": "lane", "type": "nominal", "scale": {"domain": ["72h siCtrl", "72h siCAT", "Untreated"], "range": [391, 680], "paddingInner": 0, "paddingOuter": 0}, "axis": null},
     "y": {"field": "row", "type": "nominal", "scale": {"domain": ["Catalase", "β-actin"], "range": [116, 258], "paddingInner": 0, "paddingOuter": 0}, "axis": null}
    }
   },
   {
    "data": {"name": "F_bands"},
    "transform": [{"filter": "datum.blot === '48h' && datum.row === 'Catalase'"}],
    "mark": {"type": "rect", "width": {"band": 0.8}, "height": {"band": 0.22}, "cornerRadius": 6, "strokeWidth": 5, "strokeOpacity": 0.3},
    "encoding": {
     "x": {"field": "lane", "type": "nominal", "scale": {"domain": ["48h siCtrl", "48h siCAT"], "range": [196, 354], "paddingInner": 0, "paddingOuter": 0}, "axis": null},
     "y": {"field": "row", "type": "nominal", "scale": {"domain": ["Catalase", "β-actin"], "range": [126, 270], "paddingInner": 0, "paddingOuter": 0},
       "axis": {"orient": "left", "offset": -196, "domain": false, "ticks": false, "labelFontSize": 32, "labelPadding": 13, "title": null}},
     "fill": {"field": "v", "type": "quantitative", "scale": {"domain": [0, 1], "range": ["#f4f4f4", "#000000"]}, "legend": null},
     "stroke": {"field": "v", "type": "quantitative", "scale": {"domain": [0, 1], "range": ["#f4f4f4", "#000000"]}, "legend": null}
    }
   },
   {
    "data": {"name": "F_bands"},
    "transform": [{"filter": "datum.blot === '48h' && datum.row === 'β-actin'"}],
    "mark": {"type": "rect", "width": {"band": 0.92}, "height": {"band": 0.36}, "cornerRadius": 8, "strokeWidth": 5, "strokeOpacity": 0.3},
    "encoding": {
     "x": {"field": "lane", "type": "nominal", "scale": {"domain": ["48h siCtrl", "48h siCAT"], "range": [196, 354], "paddingInner": 0, "paddingOuter": 0}, "axis": null},
     "y": {"field": "row", "type": "nominal", "scale": {"domain": ["Catalase", "β-actin"], "range": [126, 270], "paddingInner": 0, "paddingOuter": 0}, "axis": null},
     "fill": {"field": "v", "type": "quantitative", "scale": {"domain": [0, 1], "range": ["#f4f4f4", "#000000"]}, "legend": null},
     "stroke": {"field": "v", "type": "quantitative", "scale": {"domain": [0, 1], "range": ["#f4f4f4", "#000000"]}, "legend": null}
    }
   },
   {
    "data": {"name": "F_bands"},
    "transform": [{"filter": "datum.blot === '72h' && datum.row === 'Catalase'"}],
    "mark": {"type": "rect", "width": {"band": 0.8}, "height": {"band": 0.22}, "cornerRadius": 6, "strokeWidth": 5, "strokeOpacity": 0.3},
    "encoding": {
     "x": {"field": "lane", "type": "nominal", "scale": {"domain": ["72h siCtrl", "72h siCAT", "Untreated"], "range": [391, 680], "paddingInner": 0, "paddingOuter": 0}, "axis": null},
     "y": {"field": "row", "type": "nominal", "scale": {"domain": ["Catalase", "β-actin"], "range": [126, 270], "paddingInner": 0, "paddingOuter": 0}, "axis": null},
     "fill": {"field": "v", "type": "quantitative", "scale": {"domain": [0, 1], "range": ["#f4f4f4", "#000000"]}, "legend": null},
     "stroke": {"field": "v", "type": "quantitative", "scale": {"domain": [0, 1], "range": ["#f4f4f4", "#000000"]}, "legend": null}
    }
   },
   {
    "data": {"name": "F_bands"},
    "transform": [{"filter": "datum.blot === '72h' && datum.row === 'β-actin'"}],
    "mark": {"type": "rect", "width": {"band": 0.9}, "height": {"band": 0.34}, "cornerRadius": 8, "strokeWidth": 5, "strokeOpacity": 0.3},
    "encoding": {
     "x": {"field": "lane", "type": "nominal", "scale": {"domain": ["72h siCtrl", "72h siCAT", "Untreated"], "range": [391, 680], "paddingInner": 0, "paddingOuter": 0}, "axis": null},
     "y": {"field": "row", "type": "nominal", "scale": {"domain": ["Catalase", "β-actin"], "range": [126, 270], "paddingInner": 0, "paddingOuter": 0}, "axis": null},
     "fill": {"field": "v", "type": "quantitative", "scale": {"domain": [0, 1], "range": ["#f4f4f4", "#000000"]}, "legend": null},
     "stroke": {"field": "v", "type": "quantitative", "scale": {"domain": [0, 1], "range": ["#f4f4f4", "#000000"]}, "legend": null}
    }
   },
   {
    "data": {"name": "F_lanes"},
    "transform": [{"filter": "datum.blot === '48h'"}],
    "mark": {"type": "rect", "height": {"band": 0.18}, "color": "black"},
    "encoding": {
     "x": {"field": "lane", "type": "nominal", "scale": {"domain": ["48h siCtrl", "48h siCAT"], "range": [196, 354], "paddingInner": 0, "paddingOuter": 0}, "axis": null},
     "y": {"datum": "line", "type": "nominal", "scale": {"domain": ["time", "line", "lane"], "range": [30, 118], "paddingInner": 0, "paddingOuter": 0}, "axis": null}
    }
   },
   {
    "data": {"name": "F_lanes"},
    "transform": [{"filter": "datum.blot === '72h' && datum.lane !== 'Untreated'"}],
    "mark": {"type": "rect", "height": {"band": 0.18}, "color": "black"},
    "encoding": {
     "x": {"field": "lane", "type": "nominal", "scale": {"domain": ["72h siCtrl", "72h siCAT", "Untreated"], "range": [391, 680], "paddingInner": 0, "paddingOuter": 0}, "axis": null},
     "y": {"datum": "line", "type": "nominal", "scale": {"domain": ["time", "line", "lane"], "range": [30, 118], "paddingInner": 0, "paddingOuter": 0}, "axis": null}
    }
   },
   {
    "data": {"name": "F_lanes"},
    "transform": [{"filter": "datum.blot === '48h'"}],
    "mark": {"type": "text", "font": "Liberation Serif", "fontSize": 28, "baseline": "middle", "align": "center"},
    "encoding": {
     "x": {"field": "lane", "type": "nominal", "scale": {"domain": ["48h siCtrl", "48h siCAT"], "range": [196, 354], "paddingInner": 0, "paddingOuter": 0}, "axis": null},
     "y": {"datum": "lane", "type": "nominal", "scale": {"domain": ["time", "line", "lane"], "range": [30, 118], "paddingInner": 0, "paddingOuter": 0}, "axis": null},
     "text": {"field": "label"}
    }
   },
   {
    "data": {"name": "F_lanes"},
    "transform": [{"filter": "datum.blot === '72h' && datum.lane !== 'Untreated'"}],
    "mark": {"type": "text", "font": "Liberation Serif", "fontSize": 28, "baseline": "middle", "align": "center"},
    "encoding": {
     "x": {"field": "lane", "type": "nominal", "scale": {"domain": ["72h siCtrl", "72h siCAT", "Untreated"], "range": [391, 680], "paddingInner": 0, "paddingOuter": 0}, "axis": null},
     "y": {"datum": "lane", "type": "nominal", "scale": {"domain": ["time", "line", "lane"], "range": [30, 118], "paddingInner": 0, "paddingOuter": 0}, "axis": null},
     "text": {"field": "label"}
    }
   },
   {
    "data": {"name": "F_lanes"},
    "transform": [{"filter": "datum.lane === 'Untreated'"}],
    "mark": {"type": "text", "font": "Lato", "fontSize": 23, "baseline": "middle", "align": "left", "angle": -59},
    "encoding": {
     "x": {"field": "lane", "type": "nominal", "scale": {"domain": ["72h siCtrl", "72h siCAT", "Untreated"], "range": [391, 680], "paddingInner": 0, "paddingOuter": 0}, "axis": null},
     "y": {"datum": "lane", "type": "nominal", "scale": {"domain": ["time", "line", "lane"], "range": [30, 118], "paddingInner": 0, "paddingOuter": 0}, "axis": null},
     "text": {"field": "label"}
    }
   },
   {
    "data": {"name": "F_lanes"},
    "transform": [{"filter": "datum.lane === '48h siCAT'"}],
    "mark": {"type": "text", "font": "Lato", "fontSize": 32, "baseline": "middle", "align": "center"},
    "encoding": {
     "x": {"field": "lane", "type": "nominal", "bandPosition": 0, "scale": {"domain": ["48h siCtrl", "48h siCAT"], "range": [196, 354], "paddingInner": 0, "paddingOuter": 0}, "axis": null},
     "y": {"datum": "time", "type": "nominal", "scale": {"domain": ["time", "line", "lane"], "range": [30, 118], "paddingInner": 0, "paddingOuter": 0}, "axis": null},
     "text": {"field": "blot"}
    }
   },
   {
    "data": {"name": "F_lanes"},
    "transform": [{"filter": "datum.lane === '72h siCAT'"}],
    "mark": {"type": "text", "font": "Lato", "fontSize": 32, "baseline": "middle", "align": "center"},
    "encoding": {
     "x": {"field": "lane", "type": "nominal", "bandPosition": 0, "scale": {"domain": ["72h siCtrl", "72h siCAT", "Untreated"], "range": [391, 680], "paddingInner": 0, "paddingOuter": 0}, "axis": null},
     "y": {"datum": "time", "type": "nominal", "scale": {"domain": ["time", "line", "lane"], "range": [30, 118], "paddingInner": 0, "paddingOuter": 0}, "axis": null},
     "text": {"field": "blot"}
    }
   },
   {
    "data": {"name": "F_lanes"},
    "transform": [{"filter": "datum.blot === '48h'"}],
    "mark": {"type": "text", "font": "Lato", "fontWeight": "bold", "fontSize": 33, "baseline": "middle", "align": "center", "dy": 43},
    "encoding": {
     "x": {"field": "lane", "type": "nominal", "scale": {"domain": ["48h siCtrl", "48h siCAT"], "range": [196, 354], "paddingInner": 0, "paddingOuter": 0}, "axis": null},
     "y": {"datum": "β-actin", "type": "nominal", "scale": {"domain": ["Catalase", "β-actin"], "range": [126, 270], "paddingInner": 0, "paddingOuter": 0}, "axis": null},
     "text": {"field": "ratio"}
    }
   },
   {
    "data": {"name": "F_lanes"},
    "transform": [{"filter": "datum.blot === '72h'"}],
    "mark": {"type": "text", "font": "Lato", "fontWeight": "bold", "fontSize": 33, "baseline": "middle", "align": "center", "dy": 43},
    "encoding": {
     "x": {"field": "lane", "type": "nominal", "scale": {"domain": ["72h siCtrl", "72h siCAT", "Untreated"], "range": [391, 680], "paddingInner": 0, "paddingOuter": 0}, "axis": null},
     "y": {"datum": "β-actin", "type": "nominal", "scale": {"domain": ["Catalase", "β-actin"], "range": [126, 270], "paddingInner": 0, "paddingOuter": 0}, "axis": null},
     "text": {"field": "ratio"}
    }
   }
  ]
 },
 {
  "width": 709, "height": 479,
  "layer": [
   {
    "data": {"name": "E_pts"},
    "mark": {"type": "point", "filled": true, "opacity": 1, "strokeWidth": 0, "color": "black"},
    "encoding": {
     "x": {"field": "grp", "type": "nominal", "scale": {"domain": ["NS-CLL Bcells", "S-CLL Bcells", "HD-Bcells"], "range": [139, 683], "paddingInner": 0, "paddingOuter": 0},
       "axis": {"orient": "bottom", "offset": -91, "domainWidth": 4, "tickSize": 10, "labelFontSize": 25, "labelPadding": 6, "title": null}},
     "xOffset": {"field": "slot", "type": "quantitative", "scale": {"domain": [-2, 2], "range": [50.7, 130.7]}},
     "y": {"field": "v", "type": "quantitative", "scale": {"domain": [0, 1], "range": [388, 31], "nice": false, "zero": false},
       "axis": {"orient": "left", "offset": -139, "values": [0, 0.2, 0.4, 0.6, 0.8, 1.0], "format": ".1f", "tickSize": 6, "labelPadding": 2, "domainWidth": 4, "title": ["Protein expression", "(Catalase/β-actin)"], "titleLineHeight": 39, "titlePadding": 5}},
     "shape": {"field": "grp", "type": "nominal", "scale": {"domain": ["NS-CLL Bcells", "S-CLL Bcells", "HD-Bcells"], "range": ["circle", "square", "triangle-up"]}, "legend": null},
     "size": {"field": "grp", "type": "ordinal", "scale": {"domain": ["NS-CLL Bcells", "S-CLL Bcells", "HD-Bcells"], "range": [380, 300, 300]}, "legend": null}
    }
   },
   {
    "data": {"name": "E_stats"},
    "mark": {"type": "tick", "size": 118, "thickness": 4, "color": "black", "opacity": 1},
    "encoding": {"x": {"field": "grp", "type": "nominal"}, "y": {"field": "mean", "type": "quantitative"}}
   },
   {
    "data": {"name": "E_stats"},
    "mark": {"type": "rule", "strokeWidth": 4, "color": "black"},
    "encoding": {"x": {"field": "grp", "type": "nominal"}, "y": {"field": "lo", "type": "quantitative"}, "y2": {"field": "hi"}}
   },
   {
    "data": {"name": "E_stats"},
    "mark": {"type": "tick", "size": 61, "thickness": 4, "color": "black", "opacity": 1},
    "encoding": {"x": {"field": "grp", "type": "nominal"}, "y": {"field": "lo", "type": "quantitative"}}
   },
   {
    "data": {"name": "E_stats"},
    "mark": {"type": "tick", "size": 61, "thickness": 4, "color": "black", "opacity": 1},
    "encoding": {"x": {"field": "grp", "type": "nominal"}, "y": {"field": "hi", "type": "quantitative"}}
   },
   {
    "data": {"name": "E_sig"},
    "mark": {"type": "text", "fontSize": 32, "fontWeight": "bold", "baseline": "alphabetic", "align": "center"},
    "encoding": {"x": {"field": "at", "type": "nominal", "bandPosition": 0}, "y": {"field": "y", "type": "quantitative"}, "text": {"field": "label"}}
   },
   {
    "data": {"name": "E_lines"},
    "mark": {"type": "rule", "strokeWidth": 3.5, "color": "black"},
    "encoding": {"x": {"field": "from", "type": "nominal"}, "x2": {"field": "to"}, "y": {"field": "y", "type": "quantitative"}}
   }
  ]
 },
 {
  "width": 709, "height": 479,
  "layer": [
   {
    "data": {"name": "F_bars"},
    "mark": {"type": "bar", "stroke": "black", "strokeWidth": 4},
    "encoding": {
     "x": {"field": "aa", "type": "nominal", "scale": {"domain": ["0", "250", "500", "1000"], "range": [180, 540], "paddingInner": 0.3, "paddingOuter": 0.15},
       "axis": {"orient": "bottom", "offset": -92, "domainWidth": 4, "tickSize": 10, "labelPadding": 4, "title": "Ascorbic acid [µM]", "titleFontSize": 34, "titlePadding": 10}},
     "xOffset": {"field": "si", "type": "nominal", "scale": {"domain": ["siCtrl", "siCAT"], "paddingInner": 0.3, "paddingOuter": 0.1}},
     "y": {"field": "mean", "type": "quantitative", "scale": {"domain": [0, 120], "range": [387, 33], "nice": false, "zero": false},
       "axis": {"orient": "left", "offset": -180, "values": [0, 50, 100], "tickSize": 12, "labelPadding": 4, "domainWidth": 4, "title": "Cell viability (%)", "titlePadding": 10}},
     "fill": {"field": "si", "type": "nominal", "scale": {"domain": ["siCtrl", "siCAT"], "range": ["#ffffff", "#6e6e6e"]},
       "legend": {"title": null, "orient": "none", "legendX": 552, "legendY": 44, "symbolType": "square", "symbolSize": 900, "symbolStrokeColor": "black", "symbolStrokeWidth": 5, "symbolOpacity": 1, "labelFontSize": 32, "labelFont": "Liberation Sans", "labelColor": "black", "labelOffset": 32, "rowPadding": 8, "padding": 0}}
    }
   },
   {
    "data": {"name": "F_bars"},
    "mark": {"type": "rule", "strokeWidth": 4, "color": "black"},
    "encoding": {
     "x": {"field": "aa", "type": "nominal"},
     "xOffset": {"field": "si", "type": "nominal"},
     "y": {"field": "mean", "type": "quantitative"},
     "y2": {"field": "upper"}
    }
   },
   {
    "data": {"name": "F_bars"},
    "mark": {"type": "tick", "size": 18, "thickness": 5, "color": "black", "opacity": 1},
    "encoding": {
     "x": {"field": "aa", "type": "nominal"},
     "xOffset": {"field": "si", "type": "nominal"},
     "y": {"field": "upper", "type": "quantitative"}
    }
   },
   {
    "data": {"name": "F_sig"},
    "mark": {"type": "text", "fontSize": 36, "fontWeight": "bold", "baseline": "alphabetic", "align": "center"},
    "encoding": {"x": {"field": "aa", "type": "nominal"}, "y": {"field": "y", "type": "quantitative"}, "text": {"field": "label"}}
   }
  ]
 }
]
}
